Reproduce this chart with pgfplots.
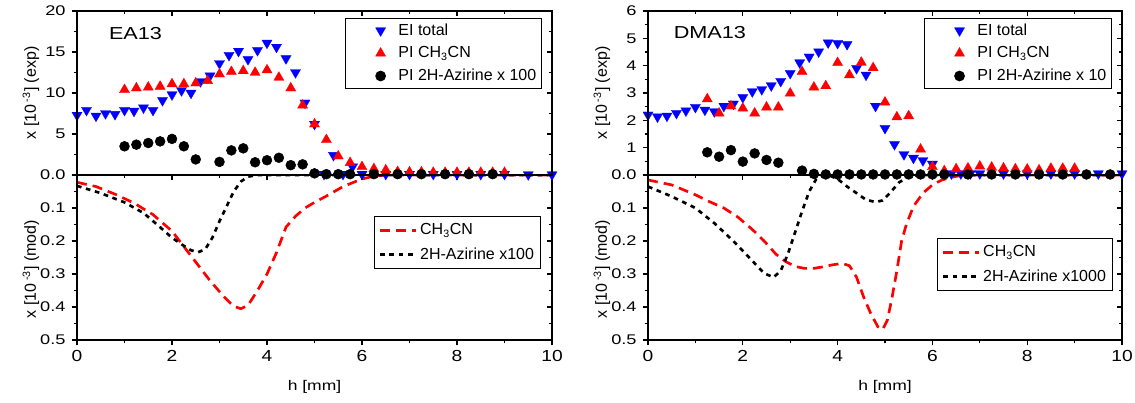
\documentclass[border=0pt]{standalone}
\usepackage{fontspec}
\setmainfont{Liberation Sans}
\usepackage{pgfplots}
\pgfplotsset{compat=1.18}

\definecolor{eiblue}{RGB}{0,0,255}
\definecolor{pired}{RGB}{255,0,0}

\pgfplotsset{
  base/.style={scale only axis, xmin=0, xmax=10, xtick={0,2,...,10}, minor x tick num=1,
    axis line style={line width=0.9pt}, every tick/.style={black, line width=0.8pt},
    major tick length=4pt, minor tick length=2.5pt,
    /pgf/number format/assume math mode=true, clip marker paths=false},
  main/.style={base, tick align=outside, xtick pos=left, ytick pos=left,
    yticklabel style={font=\fontsize{10.5}{12}\selectfont, xscale=1.3},
    xticklabel style={font=\fontsize{12}{14}\selectfont, xscale=1.2}},
  mirror/.style={base, tick align=inside, xtick pos=right, ytick pos=right,
    xticklabels={}, yticklabels={}},
  % geometry: 1px of the reference = 0.75pt
  topL/.style={at={(57.75pt,171pt)}, anchor=south west, width=356.25pt, height=123pt,
    ymin=0, ymax=20, ytick={0,5,10,15,20}, minor y tick num=1},
  topR/.style={at={(486pt,171pt)}, anchor=south west, width=355.5pt, height=123pt,
    ymin=0, ymax=6, ytick={0,1,2,3,4,5,6}, minor y tick num=1},
  botL/.style={at={(57.75pt,47.25pt)}, anchor=south west, width=356.25pt, height=123.75pt,
    ymin=0, ymax=0.5, y dir=reverse, ytick={0,0.1,0.2,0.3,0.4,0.5}, minor y tick num=1},
  botR/.style={at={(486pt,47.25pt)}, anchor=south west, width=355.5pt, height=123.75pt,
    ymin=0, ymax=0.5, y dir=reverse, ytick={0,0.1,0.2,0.3,0.4,0.5}, minor y tick num=1},
  ylab/.style={ylabel style={at={(axis description cs:-0.097,#1)}, anchor=center,
    font=\fontsize{12}{14}\selectfont}},
  toplegend/.style={legend style={at={(axis description cs:0.979,0.957)}, anchor=north east,
    draw=black, line width=0.6pt, font=\fontsize{12}{14}\selectfont, row sep=3pt,
    inner xsep=2pt, inner ysep=2pt, legend cell align=left},
    legend image code/.code={\path[draw=none, fill=none] (-0.85cm,0cm) -- (0.4cm,0cm);
      \draw[##1] plot coordinates {(0cm,0cm)};}},
  botlegend/.style={legend style={at={(axis description cs:#1)}, anchor=north east,
    draw=black, line width=0.6pt, font=\fontsize{12}{14}\selectfont, row sep=4pt,
    inner xsep=3pt, inner ysep=3.5pt, legend cell align=left},
    legend image code/.code={\draw[##1] (0cm,0cm) -- (0.95cm,0cm);}},
  eitot/.style={only marks, mark=triangle*, mark size=4.4pt, color=eiblue,
    mark options={rotate=180, line width=0.2pt}},
  pich/.style={only marks, mark=triangle*, mark size=4.4pt, color=pired,
    mark options={line width=0.2pt}},
  piaz/.style={only marks, mark=*, mark size=3.7pt, color=black},
  modch/.style={color=pired, line width=2pt, dash pattern=on 7.5pt off 4.5pt},
  modaz/.style={color=black, line width=2pt, dash pattern=on 3.5pt off 3.5pt},
  hlab/.style={xlabel={h [mm]}, xlabel style={font=\fontsize{10.5}{12}\selectfont,
    xscale=1.25, yshift=-7pt}},
}

\begin{document}
\begin{tikzpicture}
\useasboundingbox (0,0) rectangle (851.25pt,302.25pt);

% ---------- left, model ----------
\begin{axis}[main, botL, ylab=0.43, yticklabels={,0.1,0.2,0.3,0.4,0.5},
  ylabel={x [10\,\textsuperscript{-3}] (mod)}, hlab, botlegend={0.977,0.752}]
\addplot[modch] coordinates {
 (0,0.022) (0.4,0.035) (0.8,0.058) (1.2,0.085) (1.6,0.12) (2.0,0.17) (2.4,0.245)
 (2.8,0.32) (3.1,0.37) (3.3,0.398) (3.45,0.405) (3.6,0.395) (3.8,0.35) (4.0,0.3)
 (4.2,0.235) (4.4,0.158) (4.6,0.125) (4.8,0.1) (5.0,0.083) (5.3,0.06) (5.6,0.035)
 (6.0,0.012) (6.3,0.002) (6.6,0) (10,0)};
\addlegendentry{CH\textsubscript{3}CN}
\addplot[modaz] coordinates {
 (0,0.033) (0.5,0.055) (1.0,0.083) (1.4,0.115) (1.7,0.152) (2.0,0.19) (2.2,0.21)
 (2.4,0.228) (2.55,0.234) (2.7,0.225) (2.85,0.19) (3.0,0.14) (3.15,0.095) (3.3,0.05)
 (3.45,0.02) (3.6,0.005) (3.8,0) (10,0)};
\addlegendentry{2H-Azirine x100}
\end{axis}
\begin{axis}[mirror, botL]
\end{axis}

% ---------- right, model ----------
\begin{axis}[main, botR, ylab=0.43, yticklabels={,0.1,0.2,0.3,0.4,0.5},
  ylabel={x [10\,\textsuperscript{-3}] (mod)}, hlab, botlegend={0.981,0.618}]
\addplot[modch] coordinates {
 (0,0.015) (0.5,0.03) (1.0,0.06) (1.3,0.081) (1.6,0.1) (1.9,0.128) (2.2,0.165)
 (2.45,0.2) (2.7,0.24) (2.9,0.262) (3.1,0.277) (3.3,0.283) (3.5,0.283) (3.7,0.278)
 (3.9,0.272) (4.1,0.268) (4.25,0.275) (4.4,0.31) (4.55,0.37) (4.7,0.42) (4.85,0.46)
 (4.95,0.468) (5.05,0.44) (5.15,0.37) (5.25,0.29) (5.35,0.2) (5.45,0.15) (5.6,0.095)
 (5.8,0.055) (6.0,0.03) (6.2,0.015) (6.5,0.004) (6.8,0) (10,0)};
\addlegendentry{CH\textsubscript{3}CN}
\addplot[modaz] coordinates {
 (0,0.035) (0.5,0.065) (1.0,0.1) (1.4,0.146) (1.8,0.2) (2.0,0.23) (2.2,0.26)
 (2.45,0.298) (2.65,0.31) (2.8,0.29) (2.95,0.24) (3.1,0.175) (3.25,0.11) (3.4,0.05)
 (3.55,0.012) (3.7,0.002) (3.85,0.003) (4.0,0.012) (4.2,0.035) (4.4,0.055) (4.6,0.075)
 (4.8,0.082) (4.95,0.077) (5.1,0.055) (5.3,0.022) (5.5,0.005) (5.7,0) (10,0)};
\addlegendentry{2H-Azirine x1000}
\end{axis}
\begin{axis}[mirror, botR]
\end{axis}

% ---------- left, experiment ----------
\begin{axis}[main, topL, ylab=0.50, xticklabels={}, yticklabels={0.0,5,10,15,20},
  ylabel={x [10\,\textsuperscript{-3}] (exp)}, toplegend]
\addplot[eitot] coordinates {
 (0.0,7.3) (0.2,7.9) (0.4,7.2) (0.6,7.5) (0.8,7.4) (1.0,7.9) (1.2,7.8) (1.4,8.2)
 (1.6,7.9) (1.8,9.1) (2.0,9.8) (2.2,10.3) (2.4,10.0) (2.6,11.4) (2.8,12.1) (3.0,13.6)
 (3.2,14.6) (3.4,15.1) (3.6,14.1) (3.8,15.2) (4.0,16.1) (4.2,15.6) (4.4,14.2) (4.6,12.5)
 (4.8,8.8) (5.0,6.2) (5.2,0.1) (5.4,2.4) (5.6,0.1) (5.8,1.0) (6.0,0.1) (6.5,0.1)
 (7.0,0.1) (7.5,0.1) (8.0,0.1) (8.5,0.1) (9.0,0.1) (9.5,0.05) (10.0,0.05)};
\addlegendentry{EI total}
\addplot[pich] coordinates {
 (1.0,10.4) (1.25,10.6) (1.5,10.7) (1.75,10.8) (2.0,11.1) (2.25,11.1) (2.5,11.2)
 (2.75,11.5) (3.0,12.3) (3.25,12.6) (3.5,12.7) (3.75,12.5) (4.0,12.8) (4.25,11.9)
 (4.5,10.6) (4.75,8.5) (5.0,6.2) (5.25,4.3) (5.5,2.3) (5.75,1.5) (6.0,1.0) (6.25,0.75)
 (6.5,0.6) (6.75,0.4) (7.0,0.35) (7.25,0.35) (7.5,0.3) (7.75,0.3) (8.0,0.3) (8.25,0.3)
 (8.5,0.3) (8.75,0.3) (9.0,0.3)};
\addlegendentry{PI CH\textsubscript{3}CN}
\addplot[piaz] coordinates {
 (1.0,3.5) (1.25,3.7) (1.5,3.9) (1.75,4.1) (2.0,4.4) (2.25,3.5) (2.5,1.9) (3.0,1.6)
 (3.25,3.0) (3.5,3.25) (3.75,1.55) (4.0,1.8) (4.25,2.1) (4.5,1.2) (4.75,1.3) (5.0,0.2)
 (5.25,0.1) (5.5,0.1) (5.75,0.1) (6.25,0.1) (6.75,0.1) (7.25,0.1) (7.75,0.1) (8.25,0.1)
 (8.75,0.1)};
\addlegendentry{PI 2H-Azirine x 100}
\node[anchor=west, font=\fontsize{13}{15}\selectfont, xscale=1.25] at (axis cs:0.55,17.3) {EA13};
\end{axis}
\begin{axis}[mirror, topL]
\end{axis}

% ---------- right, experiment ----------
\begin{axis}[main, topR, ylab=0.50, xticklabels={}, yticklabels={0.0,1,2,3,4,5,6},
  ylabel={x [10\,\textsuperscript{-3}] (exp)}, toplegend]
\addplot[eitot] coordinates {
 (0.0,2.2) (0.2,2.13) (0.4,2.16) (0.6,2.26) (0.8,2.35) (1.0,2.48) (1.2,2.38) (1.4,2.32)
 (1.6,2.52) (1.8,2.6) (2.0,2.84) (2.2,3.05) (2.4,3.13) (2.6,3.27) (2.8,3.43) (3.0,3.72)
 (3.2,4.11) (3.4,4.32) (3.6,4.51) (3.8,4.84) (4.0,4.82) (4.2,4.78) (4.4,3.9) (4.6,3.66)
 (4.8,2.52) (5.0,1.71) (5.2,1.12) (5.4,0.75) (5.6,0.62) (5.8,0.53) (6.0,0.4) (6.4,0.05)
 (6.6,0.05) (6.8,0.05) (7.0,0.05) (7.5,0.05) (8.0,0.05) (8.5,0.05) (9.0,0.05) (9.5,0.05)
 (10.0,0.05)};
\addlegendentry{EI total}
\addplot[pich] coordinates {
 (1.25,2.78) (1.5,2.26) (1.75,2.52) (2.0,2.44) (2.25,2.26) (2.5,2.48) (2.75,2.48)
 (3.0,2.99) (3.25,3.78) (3.5,3.21) (3.75,3.26) (4.0,4.11) (4.25,3.66) (4.5,4.12)
 (4.75,3.92) (5.0,2.66) (5.25,2.12) (5.5,2.16) (5.75,0.94) (6.0,0.3) (6.25,0.15)
 (6.5,0.22) (6.75,0.25) (7.0,0.32) (7.25,0.28) (7.5,0.25) (7.75,0.22) (8.0,0.21)
 (8.25,0.18) (8.5,0.24) (8.75,0.24) (9.0,0.24)};
\addlegendentry{PI CH\textsubscript{3}CN}
\addplot[piaz] coordinates {
 (1.25,0.83) (1.5,0.67) (1.75,0.91) (2.0,0.49) (2.25,0.79) (2.5,0.55) (2.75,0.45)
 (3.25,0.16) (3.5,0.04) (3.75,0.02) (4.0,0.02) (4.25,0.02) (4.5,0.02) (4.75,0.02)
 (5.0,0.02) (5.25,0.02) (5.5,0.02) (5.75,0.02) (6.0,0.02) (6.25,0.02) (6.75,0.02)
 (7.25,0.02) (7.75,0.02) (8.25,0.02) (8.75,0.02) (9.25,0.02) (9.75,0.02)};
\addlegendentry{PI 2H-Azirine x 10}
\node[anchor=west, font=\fontsize{13}{15}\selectfont, xscale=1.25] at (axis cs:0.42,5.2) {DMA13};
\end{axis}
\begin{axis}[mirror, topR]
\end{axis}

\end{tikzpicture}
\end{document}
